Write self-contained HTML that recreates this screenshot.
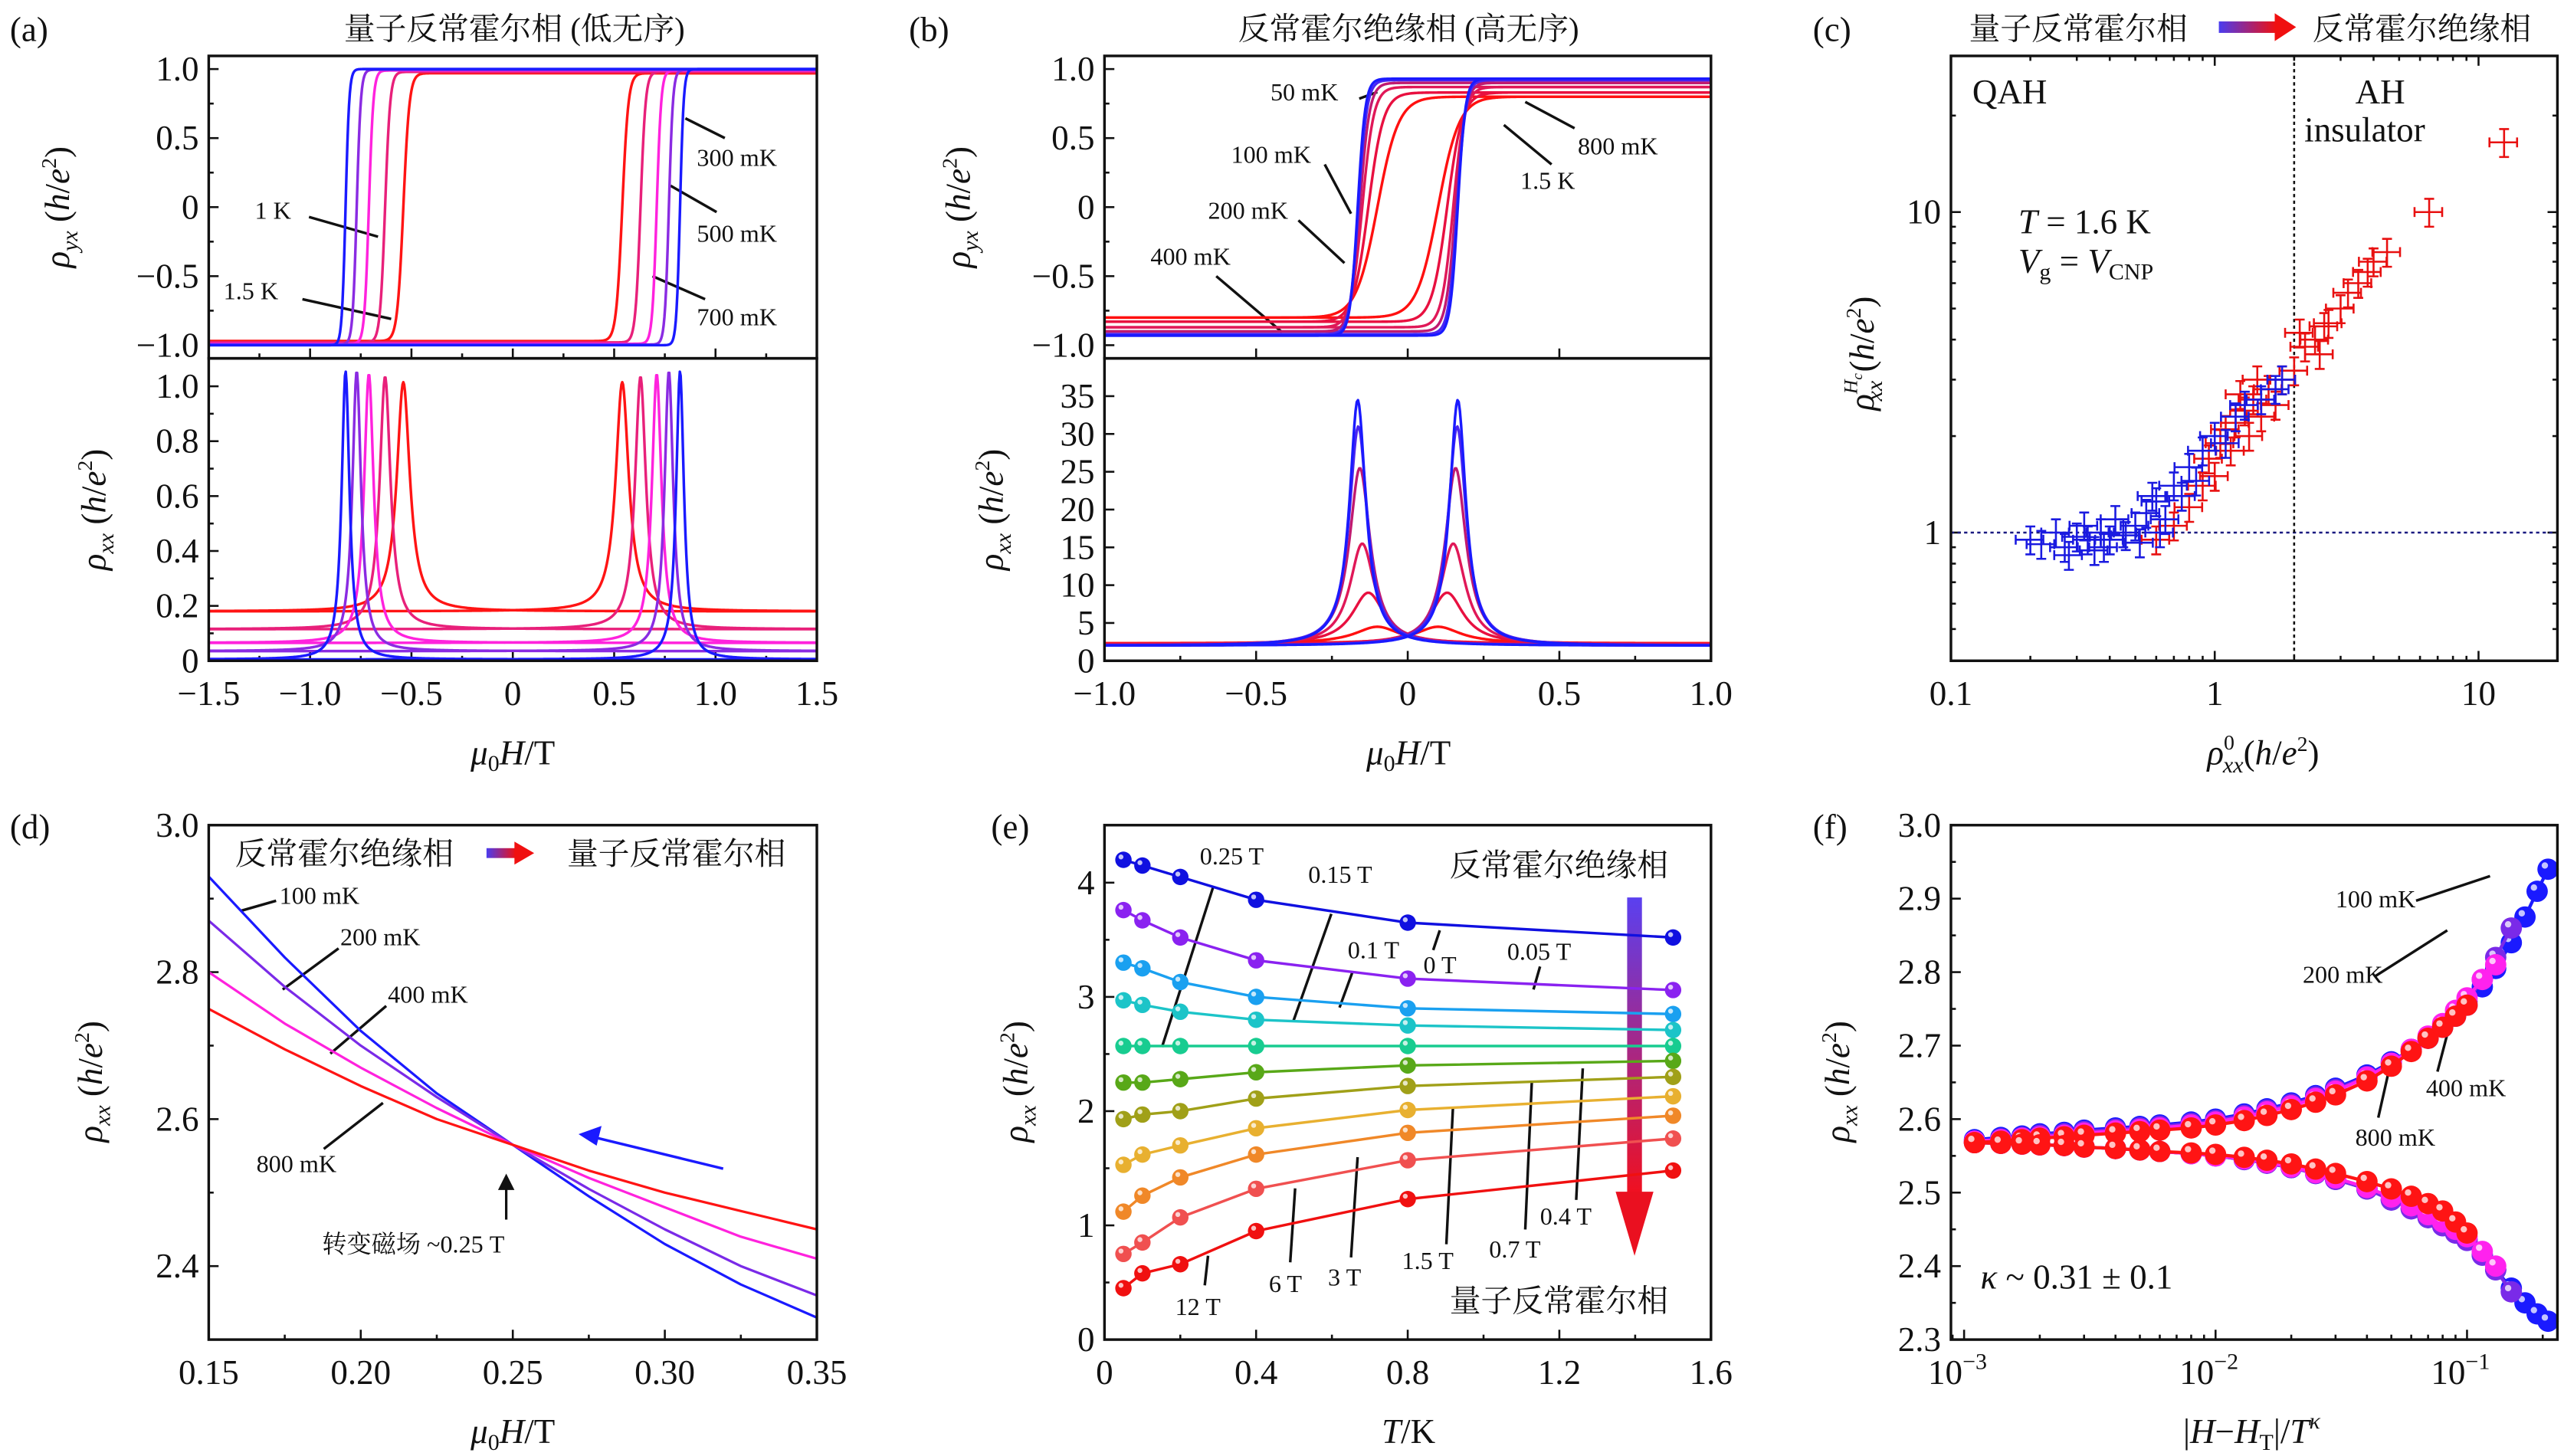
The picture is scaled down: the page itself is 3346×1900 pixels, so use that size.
<!DOCTYPE html>
<html><head><meta charset="utf-8">
<style>
html,body{margin:0;padding:0;background:#fff;}
svg{display:block;}
svg text{font-family:"Liberation Serif","DejaVu Serif","Noto Serif CJK SC",serif;}
.tk{font-size:21px;fill:#111;}
.lab{font-size:15px;fill:#111;}
svg text.cn{font-size:19px;fill:#111;font-family:"Liberation Serif","Noto Serif CJK SC",serif;}
.ax{font-size:21px;fill:#111;}
</style></head>
<body>
<svg id="svg" width="3346" height="1900" viewBox="0 0 1560 885.8" xmlns="http://www.w3.org/2000/svg">
<defs>
<linearGradient id="gh" x1="0" x2="1" y1="0" y2="0"><stop offset="0" stop-color="#4a3cf0"/><stop offset="1" stop-color="#f01010"/></linearGradient>
<linearGradient id="gv" x1="0" x2="0" y1="0" y2="1"><stop offset="0" stop-color="#5a40f0"/><stop offset="1" stop-color="#f01020"/></linearGradient>
</defs>
<g id="static" fill="#111">
<text x="6" y="25" class="ax">(a)</text>
<text x="553" y="25" class="ax">(b)</text>
<text x="1103" y="25" class="ax">(c)</text>
<text x="6" y="510" class="ax">(d)</text>
<text x="603" y="510" class="ax">(e)</text>
<text x="1103" y="510" class="ax">(f)</text>
<text x="313" y="24" class="cn" text-anchor="middle">量子反常霍尔相 (低无序)</text>
<text x="857" y="24" class="cn" text-anchor="middle">反常霍尔绝缘相 (高无序)</text>
<text x="1198" y="24" class="cn">量子反常霍尔相</text>
<rect x="1350" y="13" width="35" height="7" fill="url(#gh)"/>
<polygon points="1384,8 1397,16.5 1384,25" fill="#f01010"/>
<text x="1407" y="24" class="cn">反常霍尔绝缘相</text>
<text x="312" y="465" class="ax" text-anchor="middle"><tspan font-style="italic">μ</tspan><tspan font-size="14" dy="4">0</tspan><tspan dy="-4" font-style="italic">H</tspan>/T</text>
<text x="857" y="465" class="ax" text-anchor="middle"><tspan font-style="italic">μ</tspan><tspan font-size="14" dy="4">0</tspan><tspan dy="-4" font-style="italic">H</tspan>/T</text>
<text x="1377" y="465" class="ax" text-anchor="middle"><tspan font-style="italic">ρ</tspan><tspan font-size="13" dy="-9">0</tspan><tspan font-size="14" font-style="italic" dx="-7" dy="14">xx</tspan><tspan dy="-5">(</tspan><tspan font-style="italic">h</tspan>/<tspan font-style="italic">e</tspan><tspan font-size="13" dy="-8">2</tspan><tspan dy="8">)</tspan></text>
<text x="312" y="878" class="ax" text-anchor="middle"><tspan font-style="italic">μ</tspan><tspan font-size="14" dy="4">0</tspan><tspan dy="-4" font-style="italic">H</tspan>/T</text>
<text x="857" y="878" class="ax" text-anchor="middle"><tspan font-style="italic">T</tspan>/K</text>
<text x="1370" y="878" class="ax" text-anchor="middle">|<tspan font-style="italic">H</tspan>−<tspan font-style="italic">H</tspan><tspan font-size="14" dy="4">T</tspan><tspan dy="-4">|/</tspan><tspan font-style="italic">T</tspan><tspan font-size="14" dy="-9" font-style="italic">κ</tspan></text>
<text transform="translate(42,126) rotate(-90)" class="ax" text-anchor="middle"><tspan font-style="italic">ρ</tspan><tspan font-size="14" font-style="italic" dy="5">yx</tspan><tspan dy="-5"> (</tspan><tspan font-style="italic">h</tspan>/<tspan font-style="italic">e</tspan><tspan font-size="13" dy="-8">2</tspan><tspan dy="8">)</tspan></text>
<text transform="translate(64,310) rotate(-90)" class="ax" text-anchor="middle"><tspan font-style="italic">ρ</tspan><tspan font-size="14" font-style="italic" dy="5">xx</tspan><tspan dy="-5"> (</tspan><tspan font-style="italic">h</tspan>/<tspan font-style="italic">e</tspan><tspan font-size="13" dy="-8">2</tspan><tspan dy="8">)</tspan></text>
<text transform="translate(590,126) rotate(-90)" class="ax" text-anchor="middle"><tspan font-style="italic">ρ</tspan><tspan font-size="14" font-style="italic" dy="5">yx</tspan><tspan dy="-5"> (</tspan><tspan font-style="italic">h</tspan>/<tspan font-style="italic">e</tspan><tspan font-size="13" dy="-8">2</tspan><tspan dy="8">)</tspan></text>
<text transform="translate(610,310) rotate(-90)" class="ax" text-anchor="middle"><tspan font-style="italic">ρ</tspan><tspan font-size="14" font-style="italic" dy="5">xx</tspan><tspan dy="-5"> (</tspan><tspan font-style="italic">h</tspan>/<tspan font-style="italic">e</tspan><tspan font-size="13" dy="-8">2</tspan><tspan dy="8">)</tspan></text>
<text transform="translate(1140,215) rotate(-90)" class="ax" text-anchor="middle"><tspan font-style="italic">ρ</tspan><tspan font-size="12" font-style="italic" dy="-10">H</tspan><tspan font-size="9" font-style="italic" dy="3">c</tspan><tspan font-size="14" font-style="italic" dx="-17" dy="12">xx</tspan><tspan dy="-5"> (</tspan><tspan font-style="italic">h</tspan>/<tspan font-style="italic">e</tspan><tspan font-size="13" dy="-8">2</tspan><tspan dy="8">)</tspan></text>
<text transform="translate(62,658) rotate(-90)" class="ax" text-anchor="middle"><tspan font-style="italic">ρ</tspan><tspan font-size="14" font-style="italic" dy="5">xx</tspan><tspan dy="-5"> (</tspan><tspan font-style="italic">h</tspan>/<tspan font-style="italic">e</tspan><tspan font-size="13" dy="-8">2</tspan><tspan dy="8">)</tspan></text>
<text transform="translate(625,658) rotate(-90)" class="ax" text-anchor="middle"><tspan font-style="italic">ρ</tspan><tspan font-size="14" font-style="italic" dy="5">xx</tspan><tspan dy="-5"> (</tspan><tspan font-style="italic">h</tspan>/<tspan font-style="italic">e</tspan><tspan font-size="13" dy="-8">2</tspan><tspan dy="8">)</tspan></text>
<text transform="translate(1125,658) rotate(-90)" class="ax" text-anchor="middle"><tspan font-style="italic">ρ</tspan><tspan font-size="14" font-style="italic" dy="5">xx</tspan><tspan dy="-5"> (</tspan><tspan font-style="italic">h</tspan>/<tspan font-style="italic">e</tspan><tspan font-size="13" dy="-8">2</tspan><tspan dy="8">)</tspan></text>
<g class="lab" stroke-width="1.6">
<text x="424" y="101" class="lab">300 mK</text><line x1="441" y1="84" x2="417" y2="72" stroke="#111"/>
<text x="424" y="147" class="lab">500 mK</text><line x1="436" y1="129" x2="408" y2="113" stroke="#111"/>
<text x="424" y="198" class="lab">700 mK</text><line x1="429" y1="182" x2="397" y2="168" stroke="#111"/>
<text x="155" y="133" class="lab">1 K</text><line x1="188" y1="132" x2="230" y2="144" stroke="#111"/>
<text x="136" y="182" class="lab">1.5 K</text><line x1="184" y1="182" x2="238" y2="194" stroke="#111"/>
</g>
<g class="lab" stroke-width="1.6">
<text x="773" y="61" class="lab">50 mK</text><line x1="827" y1="60" x2="838" y2="56" stroke="#111"/>
<text x="749" y="99" class="lab">100 mK</text><line x1="806" y1="100" x2="822" y2="130" stroke="#111"/>
<text x="735" y="133" class="lab">200 mK</text><line x1="790" y1="134" x2="818" y2="160" stroke="#111"/>
<text x="700" y="161" class="lab">400 mK</text><line x1="740" y1="168" x2="780" y2="202" stroke="#111"/>
<text x="960" y="94" class="lab">800 mK</text><line x1="958" y1="78" x2="928" y2="62" stroke="#111"/>
<text x="925" y="115" class="lab">1.5 K</text><line x1="944" y1="100" x2="915" y2="76" stroke="#111"/>
</g>
<g>
<text x="1200" y="63" class="ax" font-size="20">QAH</text>
<text x="1433" y="63" class="ax" font-size="20">AH</text>
<text x="1402" y="86" class="ax" font-size="20">insulator</text>
<text x="1228" y="142" class="ax" font-size="21"><tspan font-style="italic">T</tspan> = 1.6 K</text>
<text x="1228" y="166" class="ax" font-size="21"><tspan font-style="italic">V</tspan><tspan font-size="14" dy="4">g</tspan><tspan dy="-4"> = </tspan><tspan font-style="italic">V</tspan><tspan font-size="14" dy="4">CNP</tspan></text>
</g>
<g stroke-width="1.6">
<text x="143" y="526" class="cn">反常霍尔绝缘相</text>
<rect x="296" y="516" width="18" height="6" fill="url(#gh)"/>
<polygon points="313,512 325,519 313,526" fill="#f01010"/>
<text x="345" y="526" class="cn">量子反常霍尔相</text>
<text x="170" y="550" class="lab">100 mK</text><line x1="168" y1="548" x2="147" y2="554" stroke="#111"/>
<text x="207" y="575" class="lab">200 mK</text><line x1="206" y1="577" x2="172" y2="602" stroke="#111"/>
<text x="236" y="610" class="lab">400 mK</text><line x1="235" y1="612" x2="201" y2="641" stroke="#111"/>
<text x="156" y="713" class="lab">800 mK</text><line x1="197" y1="699" x2="233" y2="671" stroke="#111"/>
<line x1="440" y1="711" x2="362" y2="692" stroke="#1a1aff" stroke-width="1.6"/>
<polygon points="352,690 366,685 363,697" fill="#1a1aff"/>
<line x1="308" y1="742" x2="308" y2="722" stroke="#111" stroke-width="1.5"/>
<polygon points="308,714 303,724 313,724" fill="#111"/>
<text x="196" y="762" class="lab">转变磁场 ~0.25 T</text>
</g>
<g stroke-width="1.6">
<text x="882" y="533" class="cn">反常霍尔绝缘相</text>
<text x="882" y="798" class="cn">量子反常霍尔相</text>
<rect x="990" y="546" width="9" height="180" fill="url(#gv)"/>
<polygon points="983,725 1006,725 994.5,764" fill="#ea1020"/>
<text x="730" y="526" class="lab">0.25 T</text><line x1="738" y1="540" x2="707" y2="637" stroke="#111"/>
<text x="796" y="537" class="lab">0.15 T</text><line x1="810" y1="556" x2="787" y2="621" stroke="#111"/>
<text x="820" y="583" class="lab">0.1 T</text><line x1="823" y1="591" x2="815" y2="613" stroke="#111"/>
<text x="866" y="592" class="lab">0 T</text><line x1="872" y1="578" x2="876" y2="566" stroke="#111"/>
<text x="917" y="584" class="lab">0.05 T</text><line x1="937" y1="588" x2="933" y2="602" stroke="#111"/>
<text x="715" y="800" class="lab">12 T</text><line x1="733" y1="782" x2="735" y2="764" stroke="#111"/>
<text x="772" y="786" class="lab">6 T</text><line x1="785" y1="768" x2="788" y2="723" stroke="#111"/>
<text x="808" y="782" class="lab">3 T</text><line x1="822" y1="765" x2="826" y2="704" stroke="#111"/>
<text x="853" y="772" class="lab">1.5 T</text><line x1="880" y1="757" x2="884" y2="674" stroke="#111"/>
<text x="906" y="765" class="lab">0.7 T</text><line x1="928" y1="748" x2="932" y2="658" stroke="#111"/>
<text x="937" y="745" class="lab">0.4 T</text><line x1="959" y1="730" x2="963" y2="650" stroke="#111"/>
</g>
<g stroke-width="1.6">
<text x="1421" y="552" class="lab">100 mK</text><line x1="1470" y1="548" x2="1515" y2="533" stroke="#111"/>
<text x="1401" y="598" class="lab">200 mK</text><line x1="1445" y1="594" x2="1489" y2="566" stroke="#111"/>
<text x="1476" y="667" class="lab">400 mK</text><line x1="1483" y1="652" x2="1494" y2="610" stroke="#111"/>
<text x="1433" y="697" class="lab">800 mK</text><line x1="1447" y1="680" x2="1456" y2="640" stroke="#111"/>
<text x="1205" y="784" class="ax" font-size="21"><tspan font-style="italic">κ</tspan> ~ 0.31 ± 0.1</text>
</g>
</g>
<g id="dyn"></g>
</svg>
<script>
// ===== Data =====
const aLabels = ['300 mK','500 mK','700 mK','1 K','1.5 K'];
const aColors = ['#1a1aff','#8a2be2','#ff22dd','#e8207a','#ff1414'];
const aCoercive = [0.825, 0.77, 0.71, 0.63, 0.54];
const aWidth = [0.018, 0.02, 0.022, 0.025, 0.03];
const aAmp = [1.0, 0.995, 0.99, 0.98, 0.97];
const aPeak = [1.055, 1.055, 1.045, 1.035, 1.015];
const aBase = [0.005, 0.035, 0.065, 0.115, 0.18];
const bLabels = ['50 mK','100 mK','200 mK','400 mK','800 mK','1.5 K'];
const bColors = ['#1a1aff','#4a26f0','#c01a70','#e01858','#e81040','#ff1010'];
const bCoercive = [0.165, 0.163, 0.158, 0.15, 0.13, 0.10];
const bWidth = [0.025, 0.028, 0.032, 0.038, 0.05, 0.07];
const bAmp = [0.93, 0.92, 0.9, 0.87, 0.83, 0.80];
const bPeak = [34.5, 31, 25.5, 15.5, 9, 4.5];
const bBase = [2.0, 2.0, 2.0, 2.1, 2.2, 2.3];
const cBlueX = [0.2,0.22,0.25,0.27,0.3,0.32,0.35,0.37,0.4,0.42,0.45,0.5,0.52,0.55,0.6,0.65,0.7,0.75,0.8,0.85,0.9,1.0,1.1,1.2,1.3,1.5,1.7,1.8,0.28,0.33,0.38,0.46,0.58,0.62];
const cBlueY = [0.95,0.92,1.0,0.9,0.97,1.05,0.88,1.0,0.95,1.1,1.0,1.05,0.93,1.15,1.25,1.1,1.4,1.3,1.6,1.45,1.8,2.0,1.9,2.3,2.5,2.6,2.8,3.0,0.85,0.95,0.9,0.98,1.3,1.0];
const cRedX = [0.6,0.7,0.8,0.9,0.95,1.0,1.05,1.1,1.15,1.2,1.3,1.35,1.4,1.5,1.6,1.7,1.8,2.0,2.2,2.4,2.5,2.7,3.0,3.2,3.5,3.8,4.0,4.5,6.5,12.5,1.25,1.45,2.1,2.6];
const cRedY = [0.95,1.05,1.2,1.4,1.7,1.5,1.9,2.1,1.8,2.2,2.4,2.0,2.6,2.3,2.8,2.5,3.0,3.2,3.8,4.0,3.6,4.5,5.0,5.6,6.0,6.5,7.0,7.5,10,16.5,2.7,3.0,4.2,4.4];
const dField = [0.15,0.175,0.2,0.225,0.25,0.275,0.3,0.325,0.35];
const dColors = ['#1a1aff','#7a2ae8','#ff22dd','#ff1414'];
const d100 = [2.93,2.82,2.72,2.635,2.565,2.495,2.43,2.375,2.33];
const d200 = [2.87,2.78,2.70,2.63,2.565,2.505,2.45,2.40,2.36];
const d400 = [2.80,2.73,2.67,2.615,2.565,2.52,2.48,2.44,2.41];
const d800 = [2.75,2.695,2.645,2.60,2.565,2.53,2.50,2.475,2.45];
const eTemps = [0.05,0.1,0.2,0.4,0.8,1.5];
const eColors = ['#1010e0','#8a22f0','#1aa0f0','#1cc4c8','#18cc90','#58a818','#a0a018','#e8b030','#f08828','#f05050','#f01010'];
const eS0 = [4.2,4.15,4.05,3.85,3.65,3.52];
const eS1 = [3.76,3.67,3.52,3.32,3.16,3.06];
const eS2 = [3.3,3.25,3.13,3.0,2.9,2.85];
const eS3 = [2.97,2.93,2.87,2.8,2.75,2.71];
const eS4 = [2.57,2.57,2.57,2.57,2.57,2.57];
const eS5 = [2.25,2.25,2.28,2.34,2.4,2.44];
const eS6 = [1.93,1.97,2.0,2.11,2.22,2.3];
const eS7 = [1.53,1.62,1.7,1.85,2.01,2.13];
const eS8 = [1.12,1.26,1.42,1.62,1.81,1.96];
const eS9 = [0.75,0.85,1.07,1.32,1.57,1.76];
const eS10 = [0.45,0.58,0.66,0.95,1.23,1.48];
const fX = [0.0011,0.0014,0.0017,0.002,0.0025,0.003,0.004,0.005,0.006,0.008,0.01,0.013,0.016,0.02,0.025,0.03,0.04,0.05,0.06,0.07,0.08,0.09,0.1,0.115,0.13,0.15,0.17,0.19,0.21];
const fColors = ['#1a1aff','#7a2ae8','#ff22ee','#ff1414'];
const fMaxX = [0.21, 0.165, 0.135, 0.1];
const fUpper100 = [2.572,2.575,2.577,2.58,2.582,2.585,2.588,2.59,2.592,2.596,2.60,2.607,2.614,2.622,2.632,2.642,2.66,2.678,2.695,2.71,2.725,2.74,2.755,2.78,2.805,2.84,2.875,2.91,2.94];
const fUpper200 = [2.57,2.573,2.575,2.578,2.58,2.583,2.586,2.588,2.59,2.594,2.598,2.605,2.612,2.62,2.63,2.64,2.658,2.676,2.693,2.71,2.726,2.742,2.76,2.79,2.82,2.86,2.885,2.9,2.9];
const fUpper400 = [2.57,2.572,2.574,2.576,2.578,2.581,2.584,2.586,2.588,2.592,2.596,2.603,2.61,2.618,2.628,2.638,2.657,2.676,2.695,2.713,2.73,2.748,2.765,2.79,2.81,2.81,2.81,2.81,2.81];
const fUpper800 = [2.568,2.57,2.572,2.574,2.576,2.578,2.581,2.583,2.585,2.588,2.592,2.598,2.605,2.613,2.623,2.633,2.652,2.672,2.692,2.71,2.725,2.74,2.755,2.755,2.755,2.755,2.755,2.755,2.755];
const fLower100 = [2.568,2.567,2.566,2.565,2.564,2.562,2.56,2.558,2.556,2.553,2.55,2.545,2.54,2.534,2.526,2.518,2.505,2.49,2.478,2.466,2.455,2.445,2.435,2.415,2.395,2.37,2.35,2.335,2.325];
const fLower200 = [2.568,2.567,2.566,2.565,2.564,2.562,2.56,2.558,2.556,2.553,2.55,2.545,2.54,2.534,2.526,2.518,2.505,2.49,2.478,2.466,2.455,2.445,2.435,2.415,2.395,2.365,2.355,2.355,2.355];
const fLower400 = [2.568,2.567,2.566,2.565,2.564,2.562,2.56,2.558,2.556,2.553,2.55,2.546,2.541,2.535,2.527,2.52,2.507,2.494,2.482,2.47,2.46,2.45,2.44,2.42,2.4,2.4,2.4,2.4,2.4];
const fLower800 = [2.568,2.567,2.566,2.565,2.564,2.562,2.56,2.558,2.556,2.554,2.552,2.548,2.544,2.539,2.532,2.526,2.515,2.505,2.495,2.485,2.475,2.46,2.445,2.445,2.445,2.445,2.445,2.445,2.445];
const aXTicks = [-1.5,-1,-0.5,0,0.5,1,1.5];
const aXTickLabels = ['−1.5','−1.0','−0.5','0','0.5','1.0','1.5'];
const rhoYXTicks = [-1,-0.5,0,0.5,1];
const rhoYXLabels = ['−1.0','−0.5','0','0.5','1.0'];
const aLowTicks = [0,0.2,0.4,0.6,0.8,1.0];
const aLowLabels = ['0','0.2','0.4','0.6','0.8','1.0'];
const bXTicks = [-1,-0.5,0,0.5,1];
const bXTickLabels = ['−1.0','−0.5','0','0.5','1.0'];
const bLowTicks = [0,5,10,15,20,25,30,35];
const bLowLabels = ['0','5','10','15','20','25','30','35'];
const cXTicks = [0.1,1,10];
const cXLabels = ['0.1','1','10'];
const cYTicks = [1,10];
const cYLabels = ['1','10'];
const dXTicks = [0.15,0.2,0.25,0.3,0.35];
const dXLabels = ['0.15','0.20','0.25','0.30','0.35'];
const dYTicks = [2.4,2.6,2.8,3.0];
const dYLabels = ['2.4','2.6','2.8','3.0'];
const eXTicks = [0,0.4,0.8,1.2,1.6];
const eXLabels = ['0','0.4','0.8','1.2','1.6'];
const eYTicks = [0,1,2,3,4];
const eYLabels = ['0','1','2','3','4'];
const fYTicks = [2.3,2.4,2.5,2.6,2.7,2.8,2.9,3.0];
const fYLabels = ['2.3','2.4','2.5','2.6','2.7','2.8','2.9','3.0'];
const fXTicks = [0.001,0.01,0.1];

// ===== Helpers =====
const NS='http://www.w3.org/2000/svg';
const G=document.getElementById('dyn');
function mk(tag,attrs,parent){const e=document.createElementNS(NS,tag);for(const k in attrs)e.setAttribute(k,attrs[k]);(parent||G).appendChild(e);return e;}
function grp(name){const g=mk('g',{});


return g;}
function lin(d0,d1,p0,p1){return v=>p0+(v-d0)/(d1-d0)*(p1-p0);}
function lg(d0,d1,p0,p1){return v=>p0+(Math.log10(v)-Math.log10(d0))/(Math.log10(d1)-Math.log10(d0))*(p1-p0);}
function frame(name,l,t,r,b){const e=mk('rect',{x:l,y:t,width:r-l,height:b-t,fill:'none',stroke:'#111','stroke-width':1.6});

}
function xticks(g,sx,vals,labels,yb,yt,len,showLab,top){vals.forEach((v,i)=>{const x=sx(v);
const t=mk('line',{x1:x,x2:x,y1:yb,y2:yb-len,stroke:'#111','stroke-width':1.2},g);


if(top){mk('line',{x1:x,x2:x,y1:yt,y2:yt+len,stroke:'#111','stroke-width':1.2},g);}
if(showLab&&labels){const tx=mk('text',{x:x,y:yb+27,'text-anchor':'middle',class:'tk'},g);tx.textContent=labels[i];

}});}
function yticks(g,sy,vals,labels,xl,xr,len,showLab,right){vals.forEach((v,i)=>{const y=sy(v);
const t=mk('line',{x1:xl,x2:xl+len,y1:y,y2:y,stroke:'#111','stroke-width':1.2},g);


if(right){mk('line',{x1:xr,x2:xr-len,y1:y,y2:y,stroke:'#111','stroke-width':1.2},g);}
if(showLab&&labels){const tx=mk('text',{x:xl-6,y:y+7,'text-anchor':'end',class:'tk'},g);tx.textContent=labels[i];

}});}
function range(a,b,s){const r=[];for(let v=a;v<=b+1e-9;v+=s)r.push(+v.toFixed(6));return r;}
function poly(g,pts,color,w,name){const p=mk('polyline',{points:pts.map(q=>q[0].toFixed(2)+','+q[1].toFixed(2)).join(' '),fill:'none',stroke:color,'stroke-width':w,'stroke-linejoin':'round'},g);


return p;}
function ball(g,x,y,r,color,name){const c=mk('circle',{cx:x,cy:y,r:r,fill:color},g);


mk('circle',{cx:x-r*0.3,cy:y-r*0.35,r:r*0.3,fill:'#fff',opacity:0.75},g);}
const H=[];for(let h=-1.5;h<=1.5001;h+=0.004)H.push(h);

// ===== Panel (a) =====
(function(){
const g=grp('panel-a');
const sx=lin(-1.5,1.5,127,497), sy1=lin(-1,1,210,42), sy2=lin(0,1,402,235);
frame('panel-a-top-frame',127,34,497,218);frame('panel-a-bottom-frame',127,218,497,402);
xticks(g,sx,aXTicks,aXTickLabels,402,34,6,true,false);
xticks(g,sx,range(-1.25,1.25,0.5),null,402,34,3,false,false);
xticks(g,sx,aXTicks,null,218,34,6,false,false);
xticks(g,sx,range(-1.25,1.25,0.5),null,218,34,3,false,false);
yticks(g,sy1,rhoYXTicks,rhoYXLabels,127,497,6,true,false);
yticks(g,sy1,range(-0.75,0.75,0.5),null,127,497,3,false,false);
yticks(g,sy2,aLowTicks,aLowLabels,127,497,6,true,false);
yticks(g,sy2,range(0.1,0.9,0.2),null,127,497,3,false,false);
for(let i=aColors.length-1;i>=0;i--){
 const up=H.map(h=>[sx(h),sy1(aAmp[i]*Math.tanh((h-aCoercive[i])/aWidth[i]))]);
 const dn=H.map(h=>[sx(h),sy1(aAmp[i]*Math.tanh((h+aCoercive[i])/aWidth[i]))]);
 poly(g,up,aColors[i],1.6,'rho-yx-up-'+aLabels[i]);poly(g,dn,aColors[i],1.6,'rho-yx-down-'+aLabels[i]);
 const w=aWidth[i]*1.3;
 const lu=H.map(h=>[sx(h),sy2(aBase[i]+(aPeak[i]-aBase[i])/(1+Math.pow((h-aCoercive[i])/w,2)))]);
 const ld=H.map(h=>[sx(h),sy2(aBase[i]+(aPeak[i]-aBase[i])/(1+Math.pow((h+aCoercive[i])/w,2)))]);
 poly(g,lu,aColors[i],1.6,'rho-xx-up-'+aLabels[i]);poly(g,ld,aColors[i],1.6,'rho-xx-down-'+aLabels[i]);
}})();

// ===== Panel (b) =====
(function(){
const g=grp('panel-b');
const sx=lin(-1,1,672,1041), sy1=lin(-1,1,210,42), sy2=lin(0,35,402,241);
frame('panel-b-top-frame',672,34,1041,218);frame('panel-b-bottom-frame',672,218,1041,402);
xticks(g,sx,bXTicks,bXTickLabels,402,34,6,true,false);
xticks(g,sx,range(-0.75,0.75,0.5),null,402,34,3,false,false);
xticks(g,sx,bXTicks,null,218,34,6,false,false);
yticks(g,sy1,rhoYXTicks,rhoYXLabels,672,1041,6,true,false);
yticks(g,sy1,range(-0.75,0.75,0.5),null,672,1041,3,false,false);
yticks(g,sy2,bLowTicks,bLowLabels,672,1041,6,true,false);
const Hb=H.filter(h=>h>=-1&&h<=1);
for(let i=bColors.length-1;i>=0;i--){
 const up=Hb.map(h=>[sx(h),sy1(bAmp[i]*Math.tanh((h-bCoercive[i])/bWidth[i]))]);
 const dn=Hb.map(h=>[sx(h),sy1(bAmp[i]*Math.tanh((h+bCoercive[i])/bWidth[i]))]);
 poly(g,up,bColors[i],1.6,'rho-yx-up-'+bLabels[i]);poly(g,dn,bColors[i],1.6,'rho-yx-down-'+bLabels[i]);
 const w=bWidth[i]*1.3;
 const lu=Hb.map(h=>[sx(h),sy2(bBase[i]+(bPeak[i]-bBase[i])/(1+Math.pow((h-bCoercive[i])/w,2)))]);
 const ld=Hb.map(h=>[sx(h),sy2(bBase[i]+(bPeak[i]-bBase[i])/(1+Math.pow((h+bCoercive[i])/w,2)))]);
 poly(g,lu,bColors[i],1.6,'rho-xx-up-'+bLabels[i]);poly(g,ld,bColors[i],1.6,'rho-xx-down-'+bLabels[i]);
}})();

// ===== Panel (c) =====
(function(){
const g=grp('panel-c');
const sx=lg(0.1,10,1187,1508), sy=lg(1,10,324,129);
frame('panel-c-frame',1187,34,1556,402);
xticks(g,sx,cXTicks,cXLabels,402,34,6,true,true);
const minors=[];[0.1,1,10].forEach(d=>{for(let k=2;k<=9;k++){const v=d*k;if(sx(v)<1556)minors.push(v);}});
xticks(g,sx,minors,null,402,34,3,false,true);
yticks(g,sy,cYTicks,cYLabels,1187,1556,6,true,true);
const ym=[0.5,0.6,0.7,0.8,0.9,2,3,4,5,6,7,8,9,20];
yticks(g,sy,ym,null,1187,1556,3,false,true);
const h=mk('line',{x1:1187,x2:1556,y1:sy(1),y2:sy(1),stroke:'#1a1a80','stroke-width':1.2,'stroke-dasharray':'2,2'},g);


const v=mk('line',{x1:sx(2),x2:sx(2),y1:34,y2:402,stroke:'#111','stroke-width':1.2,'stroke-dasharray':'2,2'},g);


function pts(X,Y,col,name){X.forEach((x,i)=>{const y=Y[i];const px=sx(x),py=sy(y);
 const e=mk('path',{d:`M${sx(x*0.88)},${py}H${sx(x*1.12)}M${sx(x*0.88)},${py-3}v6M${sx(x*1.12)},${py-3}v6M${px},${sy(y*0.9)}V${sy(y*1.1)}M${px-3},${sy(y*0.9)}h6M${px-3},${sy(y*1.1)}h6`,stroke:col,'stroke-width':1.2,fill:'none'},g);
 
 });}
pts(cRedX,cRedY,'#e81010','ah-insulator-point');
pts(cBlueX,cBlueY,'#1a1ae0','qah-point');
})();

// ===== Panel (d) =====
(function(){
const g=grp('panel-d');
const sx=lin(0.15,0.35,127,497), sy=lin(2.3,3.0,815,502);
frame('panel-d-frame',127,502,497,815);
xticks(g,sx,dXTicks,dXLabels,815,502,6,true,false);
xticks(g,sx,range(0.175,0.325,0.05),null,815,502,3,false,false);
yticks(g,sy,dYTicks,dYLabels,127,497,6,true,false);
yticks(g,sy,[2.3,2.5,2.7,2.9],null,127,497,3,false,false);
const series=[d100,d200,d400,d800];const names=['100 mK','200 mK','400 mK','800 mK'];
series.forEach((s,i)=>poly(g,dField.map((x,j)=>[sx(x),sy(s[j])]),dColors[i],1.5,'rho-xx-line-'+names[i]));
})();

// ===== Panel (e) =====
(function(){
const g=grp('panel-e');
const sx=lin(0,1.6,672,1041), sy=lin(0,4,815,537);
frame('panel-e-frame',672,502,1041,815);
xticks(g,sx,eXTicks,eXLabels,815,502,6,true,false);
xticks(g,sx,[0.2,0.6,1.0,1.4],null,815,502,3,false,false);
yticks(g,sy,eYTicks,eYLabels,672,1041,6,true,false);
yticks(g,sy,[0.5,1.5,2.5,3.5],null,672,1041,3,false,false);
const series=[eS0,eS1,eS2,eS3,eS4,eS5,eS6,eS7,eS8,eS9,eS10];
series.forEach((s,i)=>{poly(g,eTemps.map((x,j)=>[sx(x),sy(s[j])]),eColors[i],1.6,'rho-xx-vs-T-'+i);
 eTemps.forEach((x,j)=>ball(g,sx(x),sy(s[j]),5,eColors[i],'data-point'));});
})();

// ===== Panel (f) =====
(function(){
const g=grp('panel-f');
const sx=lg(0.001,0.1,1195,1501), sy=lin(2.3,3.0,815,502);
frame('panel-f-frame',1187,502,1556,815);
xticks(g,sx,fXTicks,null,815,502,6,false,false);
fXTicks.forEach(v=>{const tx=mk('text',{x:sx(v)-4,y:842,'text-anchor':'middle',class:'tk'},g);
 
 
 tx.innerHTML='10<tspan font-size="14" dy="-9">−'+Math.round(-Math.log10(v))+'</tspan>';});
const minors=[];[0.001,0.01,0.1].forEach(d=>{for(let k=2;k<=9;k++){const v=d*k;if(sx(v)<1556&&sx(v)>1187)minors.push(v);}});
minors.push(0.0009);
xticks(g,sx,minors,null,815,502,3,false,false);
yticks(g,sy,fYTicks,fYLabels,1187,1556,6,true,false);
yticks(g,sy,range(2.35,2.95,0.1),null,1187,1556,3,false,false);
const ups=[fUpper100,fUpper200,fUpper400,fUpper800], lows=[fLower100,fLower200,fLower400,fLower800];
const names=['100 mK','200 mK','400 mK','800 mK'];
for(let i=0;i<4;i++){
 [ups[i],lows[i]].forEach((s,k)=>{const P=[];fX.forEach((x,j)=>{if(x<=fMaxX[i]+1e-9)P.push([sx(x),sy(s[j])]);});
 poly(g,P,fColors[i],2,(k?'lower-':'upper-')+'branch-'+names[i]);
 P.forEach(p=>ball(g,p[0],p[1],6.5,fColors[i],'scaling-point'));});
}})();
</script>
</body></html>
